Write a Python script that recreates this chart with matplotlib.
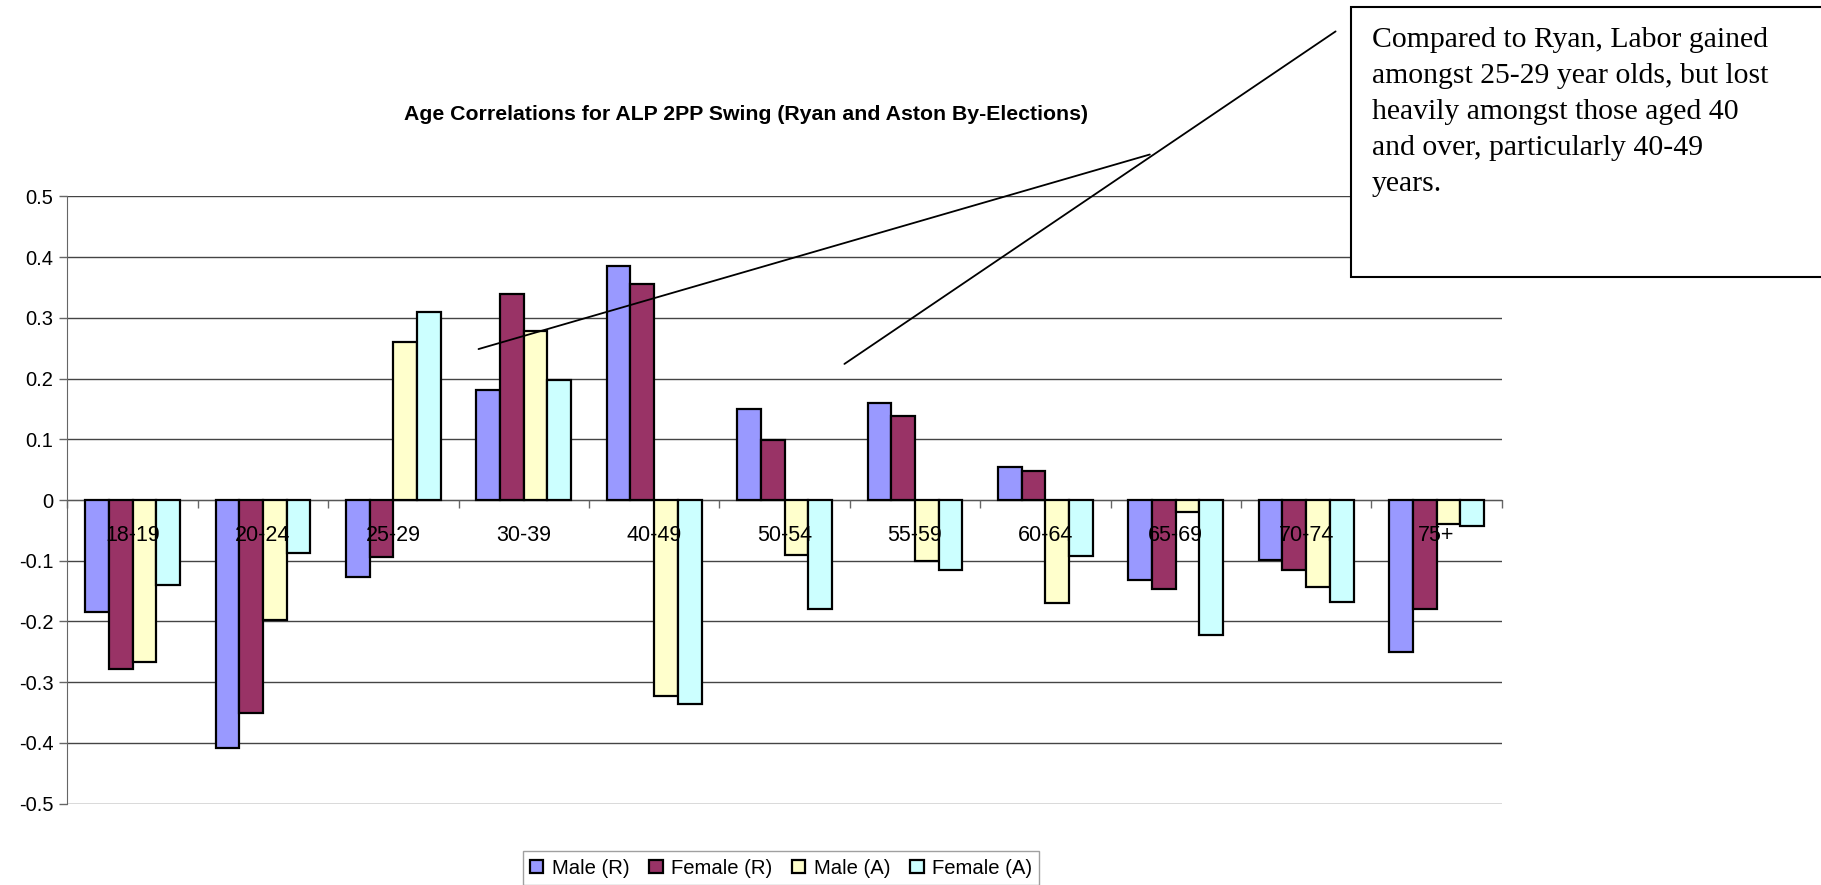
import matplotlib
matplotlib.use("Agg")
import matplotlib.pyplot as plt
from matplotlib.patches import Rectangle
from matplotlib.ticker import FixedLocator, FuncFormatter
import numpy as np

# Age groups and correlation values for each series
age_groups = ["18-19", "20-24", "25-29", "30-39", "40-49", "50-54",
              "55-59", "60-64", "65-69", "70-74", "75+"]
male_ryan = [-0.185, -0.408, -0.126, 0.181, 0.386, 0.149, 0.160, 0.055, -0.131, -0.098, -0.250]
female_ryan = [-0.279, -0.351, -0.094, 0.339, 0.355, 0.099, 0.139, 0.048, -0.146, -0.115, -0.180]
male_aston = [-0.266, -0.197, 0.260, 0.279, -0.322, -0.090, -0.101, -0.170, -0.019, -0.144, -0.039]
female_aston = [-0.140, -0.088, 0.309, 0.197, -0.336, -0.179, -0.115, -0.093, -0.222, -0.168, -0.042]
series_names = ["Male (R)", "Female (R)", "Male (A)", "Female (A)"]
series_colors = ["#9999FF", "#993366", "#FFFFCC", "#CCFFFF"]
y_ticks = [-0.5, -0.4, -0.3, -0.2, -0.1, 0, 0.1, 0.2, 0.3, 0.4, 0.5]

title = "Age Correlations for ALP 2PP Swing (Ryan and Aston By-Elections)"
note = ("Compared to Ryan, Labor gained\n"
        "amongst 25-29 year olds, but lost\n"
        "heavily amongst those aged 40\n"
        "and over, particularly 40-49\n"
        "years.")

W, H = 1821, 885
fig = plt.figure(figsize=(W / 100, H / 100), dpi=100)
fig.patch.set_facecolor("white")

ax = fig.add_axes([67.4 / W, 1 - 803.7 / H, 1434.3 / W, 607.4 / H])

series = [male_ryan, female_ryan, male_aston, female_aston]
x = np.arange(len(age_groups))
bar_w = 1 / 5.5
handles = []
for k, (vals, name, col) in enumerate(zip(series, series_names, series_colors)):
    b = ax.bar(x + (k - 1.5) * bar_w, vals, width=bar_w, color=col,
               edgecolor="black", linewidth=1.6, label=name, zorder=3)
    handles.append(b)

ax.set_xlim(-0.5, len(age_groups) - 0.5)
ax.set_ylim(-0.5, 0.5)

# horizontal gridlines
ax.yaxis.set_major_locator(FixedLocator(y_ticks))
ax.yaxis.set_major_formatter(FuncFormatter(lambda v, p: "0" if abs(v) < 1e-9 else f"{v:.1f}"))
ax.grid(axis="y", color="#444444", linewidth=1.0, zorder=0)
ax.tick_params(axis="y", direction="out", length=6, width=1, color="#666666",
               labelsize=14.5, pad=4)

# category axis drawn at zero, ticks between groups, labels at group centres
for s in ["top", "right"]:
    ax.spines[s].set_visible(False)
ax.spines["left"].set_color("#666666")
ax.spines["bottom"].set_position(("data", 0))
ax.spines["bottom"].set_color("#555555")
ax.spines["bottom"].set_zorder(2)
ax.set_xticks(np.arange(len(age_groups) + 1) - 0.5)
ax.set_xticklabels([])
ax.tick_params(axis="x", which="major", direction="out", length=6, width=1, color="#666666")
ax.set_xticks(x, minor=True)
ax.set_xticklabels(age_groups, minor=True)
ax.tick_params(axis="x", which="minor", length=0, labelsize=15.5, pad=18)
ax.xaxis.set_zorder(5)

for t in ax.get_xticklabels(minor=True) + ax.get_yticklabels():
    t.set_fontfamily("Liberation Sans")

fig.text(745.6 / W, 1 - 115 / H, title, ha="center", va="center",
         fontsize=15.3, fontweight="bold", family="Liberation Sans")

leg = fig.legend(handles=handles, labels=series_names, loc="center",
                 bbox_to_anchor=(781 / W, 1 - 868 / H), ncol=4, frameon=True,
                 fancybox=False, edgecolor="#888888", handlelength=0.65,
                 handleheight=0.65, handletextpad=0.4, columnspacing=1.0,
                 borderpad=0.35, prop={"family": "Liberation Sans", "size": 14.6})
leg.get_frame().set_linewidth(1.0)

# note box with leader lines pointing into the chart
box = Rectangle((1350.7 / W, 1 - 276.7 / H), (1830 - 1350.7) / W, (276.7 - 7.3) / H,
                transform=fig.transFigure, facecolor="white", edgecolor="black",
                linewidth=1.5, zorder=10)
fig.patches.append(box)
fig.text(1371.7 / W, 1 - 27 / H, note, ha="left", va="top", fontsize=21.4,
         family="Liberation Serif", linespacing=1.5, zorder=11)

for xy, end in [((2.653, 0.2485), (1149.8, H - 154.5)),
                ((5.459, 0.224), (1335.6, H - 31.4))]:
    ax.annotate("", xy=xy, xycoords="data", xytext=end, textcoords="figure pixels",
                arrowprops=dict(arrowstyle="-", color="black", lw=1.3,
                                shrinkA=0, shrinkB=0), annotation_clip=False)

fig.savefig("out.png", dpi=100, facecolor="white")
